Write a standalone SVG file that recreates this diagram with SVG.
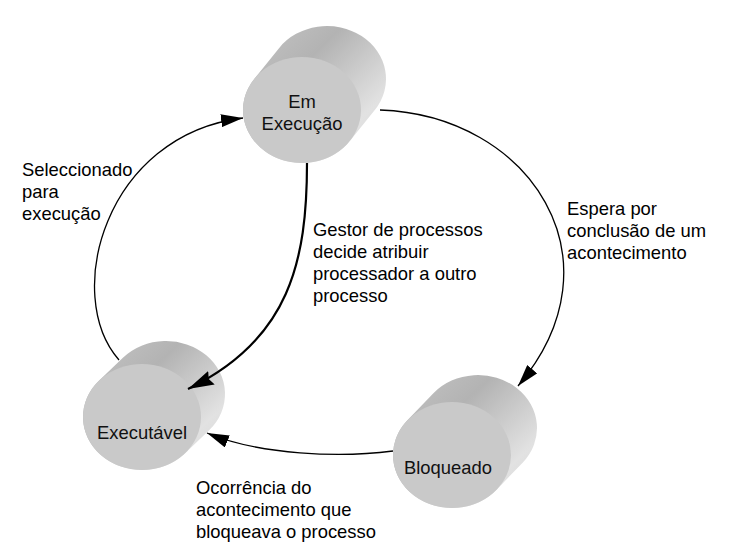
<svg xmlns="http://www.w3.org/2000/svg" width="734" height="552" viewBox="0 0 734 552">
<defs>
<linearGradient id="body" x1="0" y1="0" x2="1" y2="1">
<stop offset="0" stop-color="#c6c6c6"/>
<stop offset="0.35" stop-color="#b3b3b3"/>
<stop offset="0.75" stop-color="#e2e2e2"/>
<stop offset="1" stop-color="#d4d4d4"/>
</linearGradient>
<marker id="arrow" markerWidth="24" markerHeight="13" refX="22" refY="6.5" orient="auto" markerUnits="userSpaceOnUse">
<path d="M0,0 L22,6.5 L0,13 z" fill="#000"/>
</marker>
<marker id="arrowBig" markerWidth="28" markerHeight="15" refX="26" refY="7.5" orient="auto" markerUnits="userSpaceOnUse">
<path d="M0,0 L26,7.5 L0,15 L3,7.5 z" fill="#000"/>
</marker>
</defs>
<style>
.body{fill:url(#body);}
.face{fill:#c9c9c9;}
.lbl{font-family:"Liberation Sans",Arial,sans-serif;font-size:18.4px;fill:#000;}
.node{font-family:"Liberation Sans",Arial,sans-serif;font-size:18.4px;fill:#111;text-anchor:middle;}
.conn{fill:none;stroke:#000;stroke-width:1.3;}
.thick{stroke-width:2.2;}
</style>

<g id="node-em-execucao">
<path class="body" d="M254.2,78.9 L279.2,47.9 A59,53 0 0 1 374.8,110.1 L349.8,141.1 A59,53 0 0 1 254.2,78.9 Z"/>
<ellipse class="face" cx="302" cy="110" rx="59" ry="53"/>
<text class="node" x="302" y="108">Em</text>
<text class="node" x="302" y="130">Execução</text>
</g>

<g id="node-executavel">
<path class="body" d="M98.9,380.8 L122.9,357.8 A59,53 0 0 1 209.1,430.2 L185.1,453.2 A59,53 0 0 1 98.9,380.8 Z"/>
<ellipse class="face" cx="142" cy="417" rx="59" ry="53"/>
<text class="node" x="142" y="439">Executável</text>
</g>

<g id="node-bloqueado">
<path class="body" d="M407.4,420.3 L433.4,393.3 A59,53 0 0 1 522.6,462.7 L496.6,489.7 A59,53 0 0 1 407.4,420.3 Z"/>
<ellipse class="face" cx="452" cy="455" rx="59" ry="53"/>
<text class="node" x="448" y="474">Bloqueado</text>
</g>

<g id="connectors">
<path class="conn" d="M119,360 C62,295 105,135 243,118" marker-end="url(#arrow)"/>
<path class="conn" d="M380,110 C530,115 625,260 518,386" marker-end="url(#arrow)"/>
<path class="conn" d="M393,451 C340,458 260,455 207,433" marker-end="url(#arrow)"/>
<path class="conn thick" d="M307,163 C307,260 290,340 188,389" marker-end="url(#arrowBig)"/>
</g>

<g id="labels">
<text class="lbl" x="22" y="176">Seleccionado</text>
<text class="lbl" x="22" y="198">para</text>
<text class="lbl" x="22" y="220">execução</text>
<text class="lbl" x="313" y="236">Gestor de processos</text>
<text class="lbl" x="313" y="258">decide atribuir</text>
<text class="lbl" x="313" y="280">processador a outro</text>
<text class="lbl" x="313" y="302">processo</text>
<text class="lbl" x="567" y="215">Espera por</text>
<text class="lbl" x="567" y="237">conclusão de um</text>
<text class="lbl" x="567" y="259">acontecimento</text>
<text class="lbl" x="196" y="494">Ocorrência do</text>
<text class="lbl" x="196" y="516">acontecimento que</text>
<text class="lbl" x="196" y="538">bloqueava o processo</text>
</g>
</svg>
